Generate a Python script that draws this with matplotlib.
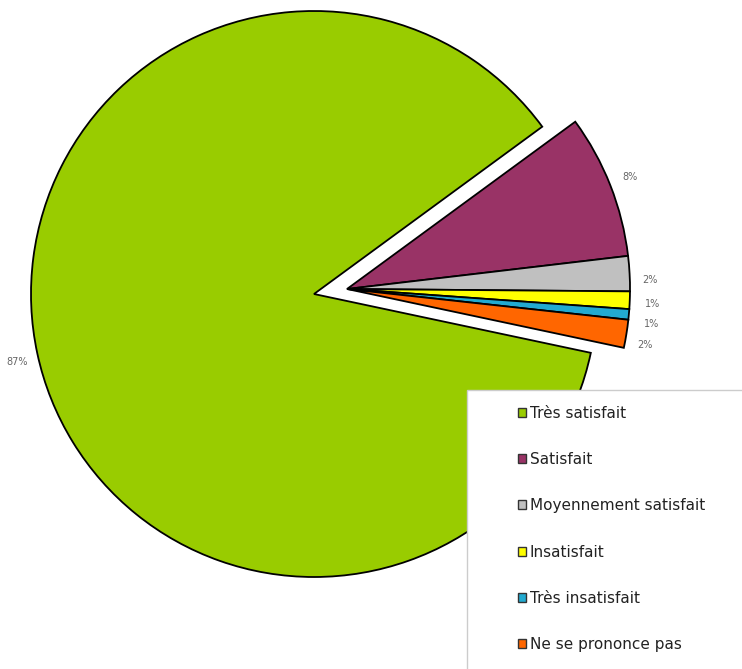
import matplotlib.pyplot as plt
from matplotlib.patches import Patch, Rectangle

# data
categories = ["Très satisfait", "Satisfait", "Moyennement satisfait",
              "Insatisfait", "Très insatisfait", "Ne se prononce pas"]
values = [86.6, 8.2, 2.0, 1.0, 0.6, 1.6]
pct_labels = ["87%", "8%", "2%", "1%", "1%", "2%"]
colors = ["#99CC00", "#993366", "#C0C0C0", "#FFFF00", "#22AAD0", "#FF6600"]

W, H = 742, 669
fig = plt.figure(figsize=(W / 100, H / 100), dpi=100)
ax = fig.add_axes([0, 0, 1, 1])

cx, cy, r = 314, H - 294, 283
shift = (33, 5)  # the small slices are pulled out together

wedges, texts = ax.pie(values, colors=colors, labels=pct_labels,
                       startangle=-12.0, counterclock=False,
                       radius=r, center=(cx, cy), labeldistance=1.06,
                       wedgeprops=dict(edgecolor="black", linewidth=1.3),
                       textprops=dict(fontsize=7, color="#666666"))

# small label nudges so they sit like the original
nudges = [(0, 0), (-4, 2), (-4, -7), (-2, -3), (-2, -8), (-6, -8)]
for w, t, (dx, dy) in zip(wedges[1:], texts[1:], nudges[1:]):
    w.set_center((cx + shift[0], cy + shift[1]))
    x, y = t.get_position()
    t.set_position((x + shift[0] + dx, y + shift[1] + dy))
    t.set_ha("left")

x, y = texts[0].get_position()
texts[0].set_position((x - 14, y - 5))

ax.set_xlim(0, W)
ax.set_ylim(0, H)
ax.set_aspect("equal")
ax.axis("off")

# legend box, runs off the right and bottom edges
fig.patches.append(Rectangle((467 / W, -0.05), 0.4, 0.05 + (H - 390) / H,
                             transform=fig.transFigure, facecolor="white",
                             edgecolor="#cccccc", linewidth=1.0, zorder=5))

handles = [Patch(facecolor=c, edgecolor="#333333", linewidth=1.0) for c in colors]
leg = fig.legend(handles, categories, loc="upper left",
                 bbox_to_anchor=(510 / W, (H - 398) / H),
                 frameon=False, fontsize=11, handlelength=0.55, handleheight=0.55,
                 handletextpad=0.25, labelspacing=2.05, borderpad=0,
                 labelcolor="#222222")
leg.set_zorder(6)

fig.savefig("out.png", dpi=100)
